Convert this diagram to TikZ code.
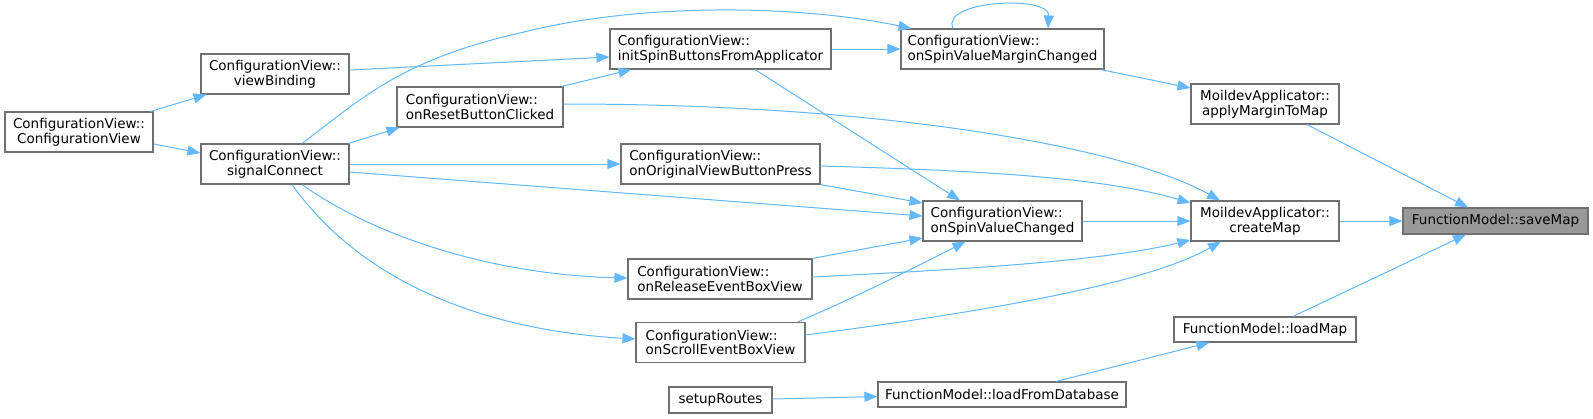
\documentclass[tikz,border=0pt]{standalone}
\usepackage{fontspec}
\setmainfont{DejaVu Sans}
\usetikzlibrary{arrows.meta}
\definecolor{edgec}{HTML}{63B8FF}
\definecolor{boxc}{HTML}{707070}
\definecolor{hilite}{HTML}{999999}
\tikzset{
  fn/.style={draw=boxc, line width=1.1pt, fill=white, inner sep=0pt,
    minimum height=40pt, font=\fontsize{13.5}{14.8}\selectfont, text=black},
  fnc/.style={fn, align=center},
  fnl/.style={fn, align=left},
  fn1/.style={fn, minimum height=26pt},
  call/.style={draw=edgec, line width=1pt,
    -{Triangle[length=13pt,width=10pt]}},
}
\begin{document}
\begin{tikzpicture}[x=1pt,y=-1pt]
\useasboundingbox[fill=white] (0,0) rectangle (1593,418);
% nodes
\node[fnc, minimum width=148pt] (cv)  at (79,132)   {ConfigurationView::\\ConfigurationView};
\node[fnc, minimum width=148pt] (vb)  at (275,74)   {ConfigurationView::\\viewBinding};
\node[fnc, minimum width=148pt] (sc)  at (275,164)  {ConfigurationView::\\signalConnect};
\node[fnl, minimum width=166pt] (rb)  at (480,107)  {ConfigurationView::\\onResetButtonClicked};
\node[fnl, minimum width=221pt] (isb) at (720.5,49) {ConfigurationView::\\initSpinButtonsFromApplicator};
\node[fnl, minimum width=203pt] (svm) at (1002.5,49) {ConfigurationView::\\onSpinValueMarginChanged};
\node[fnl, minimum width=199pt] (ovb) at (720.5,164) {ConfigurationView::\\onOriginalViewButtonPress};
\node[fnl, minimum width=159pt] (svc) at (1002.5,221) {ConfigurationView::\\onSpinValueChanged};
\node[fnl, minimum width=184pt] (reb) at (720,279)  {ConfigurationView::\\onReleaseEventBoxView};
\node[fnl, minimum width=169pt] (seb) at (720.5,342.5) {ConfigurationView::\\onScrollEventBoxView};
\node[fn1, minimum width=103pt] (sr)  at (720.5,400) {setupRoutes};
\node[fn1, minimum width=248pt, minimum height=25pt] (lfd) at (1002,394.5) {FunctionModel::loadFromDatabase};
\node[fnc, minimum width=148pt] (amm) at (1265,104) {MoildevApplicator::\\applyMarginToMap};
\node[fnc, minimum width=148pt] (cm)  at (1265,221) {MoildevApplicator::\\createMap};
\node[fn1, minimum width=182pt, minimum height=25pt] (lm) at (1265,329.5) {FunctionModel::loadMap};
\node[fn1, minimum width=185pt, fill=hilite] (sm) at (1495.5,221) {FunctionModel::saveMap};
% edges
\draw[call] ([xshift=-3pt]cv.north east) -- ([xshift=6pt]vb.south west);
\draw[call] ([yshift=-12pt]cv.east) -- ([yshift=11pt]sc.west);
\draw[call] ([yshift=4pt]vb.east) -- ([yshift=-8pt]isb.west);
\draw[call] ([xshift=27pt]sc.north) .. controls (360,100) and (400,60) .. (520,33)
            .. controls (640,2) and (800,5) .. ([xshift=11pt]svm.north west);
\draw[call] ([xshift=-1pt]sc.north east) -- ([xshift=3pt]rb.south west);
\draw[call] (sc.east) -- (ovb.west);
\draw[call] ([yshift=-8pt]sc.east) -- ([yshift=5pt]svc.west);
\draw[call] ([xshift=27pt]sc.south) .. controls (380,240) and (500,275) .. ([yshift=1pt]reb.west);
\draw[call] ([xshift=17pt]sc.south) .. controls (360,280) and (480,330) .. ([yshift=3.5pt]seb.west);
\draw[call] ([xshift=-2pt]rb.north east) -- ([xshift=22pt]isb.south west);
\draw[call] ([yshift=3pt]rb.east) .. controls (900,104) and (1130,150) .. ([xshift=-45pt]cm.north);
\draw[call] (isb.east) -- (svm.west);
\draw[call] ([xshift=34.5pt]isb.south) -- ([xshift=-42.5pt]svc.north);
\draw[call] ([xshift=-49.5pt]svm.north) .. controls (940,0) and (1050,-5) .. ([xshift=45.5pt]svm.north);
\draw[call] ([xshift=-4pt]svm.south east) -- ([yshift=16pt]amm.west);
\draw[call] (ovb.south east) -- ([yshift=18pt]svc.west);
\draw[call] ([yshift=-2pt]ovb.east) .. controls (960,170) and (1100,176) .. ([yshift=18pt]cm.west);
\draw[call] (svc.east) -- (cm.west);
\draw[call] (reb.north east) -- ([yshift=-17pt]svc.west);
\draw[call] ([yshift=2pt]reb.east) .. controls (950,270) and (1100,262) .. ([yshift=-19pt]cm.west);
\draw[call] ([xshift=-8pt]seb.north east) .. controls (850,300) and (920,265) .. ([xshift=-37pt]svc.south);
\draw[call] ([yshift=7.5pt]seb.east) .. controls (1000,310) and (1150,282) .. ([xshift=-44pt]cm.south);
\draw[call] ([xshift=42pt]amm.south) -- ([xshift=-27.5pt]sm.north);
\draw[call] (cm.east) -- (sm.west);
\draw[call] ([xshift=28pt]lm.north) -- ([xshift=-29.5pt]sm.south);
\draw[call] ([xshift=54pt]lfd.north) -- ([xshift=36pt]lm.south west);
\draw[call] ([yshift=1pt]sr.east) -- ([yshift=-2pt]lfd.west);
\end{tikzpicture}
\end{document}
